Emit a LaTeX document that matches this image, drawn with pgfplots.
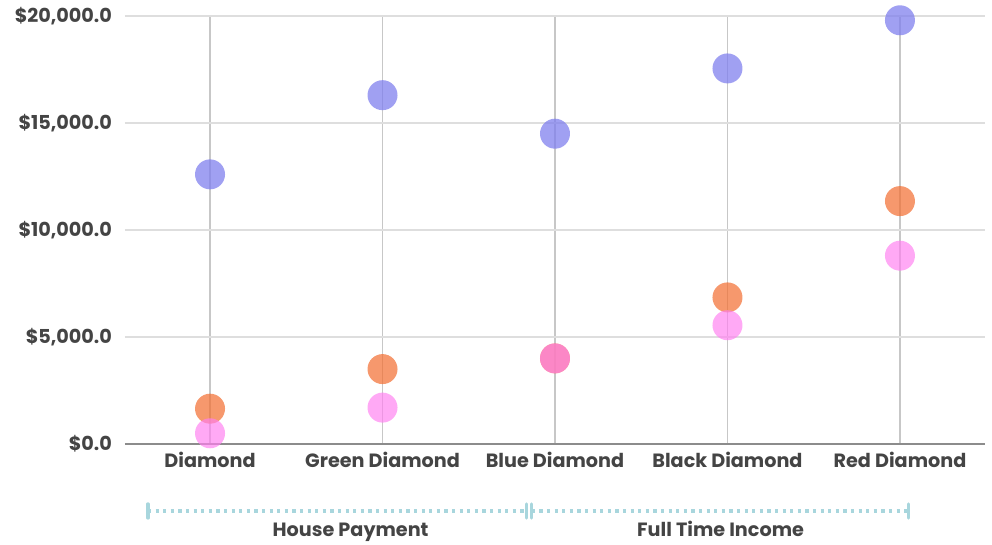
\documentclass[border=0pt]{standalone}
\usepackage{pgfplots}
\pgfplotsset{compat=1.18}
\usepackage{fontspec}
\setmainfont{Poppins}
\definecolor{ptblue}{RGB}{128,128,238}
\definecolor{ptorange}{RGB}{242,112,52}
\definecolor{ptpink}{RGB}{255,128,240}
\definecolor{txtgray}{RGB}{68,68,68}
\definecolor{bracket}{RGB}{168,214,221}
\newcommand{\lblfont}{\fontsize{9.6}{11}\selectfont\bfseries}
\begin{document}
\begin{tikzpicture}
\begin{axis}[
    at={(0pt,0pt)}, anchor=south west,
    scale only axis,
    width=430pt, height=214pt,
    xmin=-0.493, xmax=4.493,
    ymin=0, ymax=20000,
    xtick={0,1,2,3,4},
    xticklabels={Diamond, Green Diamond, Blue Diamond, Black Diamond, Red Diamond},
    ytick={0,5000,10000,15000,20000},
    yticklabel={\$\pgfmathprintnumber[assume math mode=true,fixed,fixed zerofill,precision=1,1000 sep={,}]{\tick}},
    scaled y ticks=false,
    tick style={draw=none},
    ticklabel style={font=\lblfont, text=txtgray},
    yticklabel style={xshift=-3pt},
    xticklabel style={yshift=-0.5pt},
    axis x line*=bottom,
    axis y line*=left,
    x axis line style={draw=black!45, line width=0.6pt, -},
    y axis line style={draw=none},
    xmajorgrids, ymajorgrids,
    x grid style={draw=black!22, line width=0.6pt},
    y grid style={draw=black!13, line width=0.6pt},
    clip=false,
]
\addplot[only marks, mark=*, mark size=7.5pt, color=ptblue,
    mark options={fill=ptblue, fill opacity=0.75, draw opacity=0}] coordinates {
    (0,12600) (1,16300) (2,14500) (3,17550) (4,19800)
};
\addplot[only marks, mark=*, mark size=7.5pt, color=ptorange,
    mark options={fill=ptorange, fill opacity=0.72, draw opacity=0}] coordinates {
    (0,1650) (1,3500) (2,4000) (3,6850) (4,11350)
};
\addplot[only marks, mark=*, mark size=7.5pt, color=ptpink,
    mark options={fill=ptpink, fill opacity=0.68, draw opacity=0}] coordinates {
    (0,500) (1,1700) (2,4000) (3,5550) (4,8800)
};

% group brackets
\draw[bracket, line width=1.6pt, dash pattern=on 1.6pt off 2.2pt]
    (axis cs:-0.36,-3130) -- (axis cs:1.835,-3130);
\draw[bracket, line width=1.6pt, dash pattern=on 1.6pt off 2.2pt]
    (axis cs:1.865,-3130) -- (axis cs:4.05,-3130);
\draw[bracket, line width=1.6pt, line cap=round] (axis cs:-0.36,-2800) -- (axis cs:-0.36,-3460);
\draw[bracket, line width=1.6pt, line cap=round] (axis cs:1.835,-2800) -- (axis cs:1.835,-3460);
\draw[bracket, line width=1.6pt, line cap=round] (axis cs:1.865,-2800) -- (axis cs:1.865,-3460);
\draw[bracket, line width=1.6pt, line cap=round] (axis cs:4.05,-2800) -- (axis cs:4.05,-3460);
\node[anchor=base, font=\lblfont, text=txtgray] at (axis cs:0.815,-4330) {House Payment};
\node[anchor=base, font=\lblfont, text=txtgray] at (axis cs:2.96,-4330) {Full Time Income};
\end{axis}
\pgfresetboundingbox
\path (-62.5pt,-50.5pt) rectangle (433.5pt,222pt);
\end{tikzpicture}
\end{document}
